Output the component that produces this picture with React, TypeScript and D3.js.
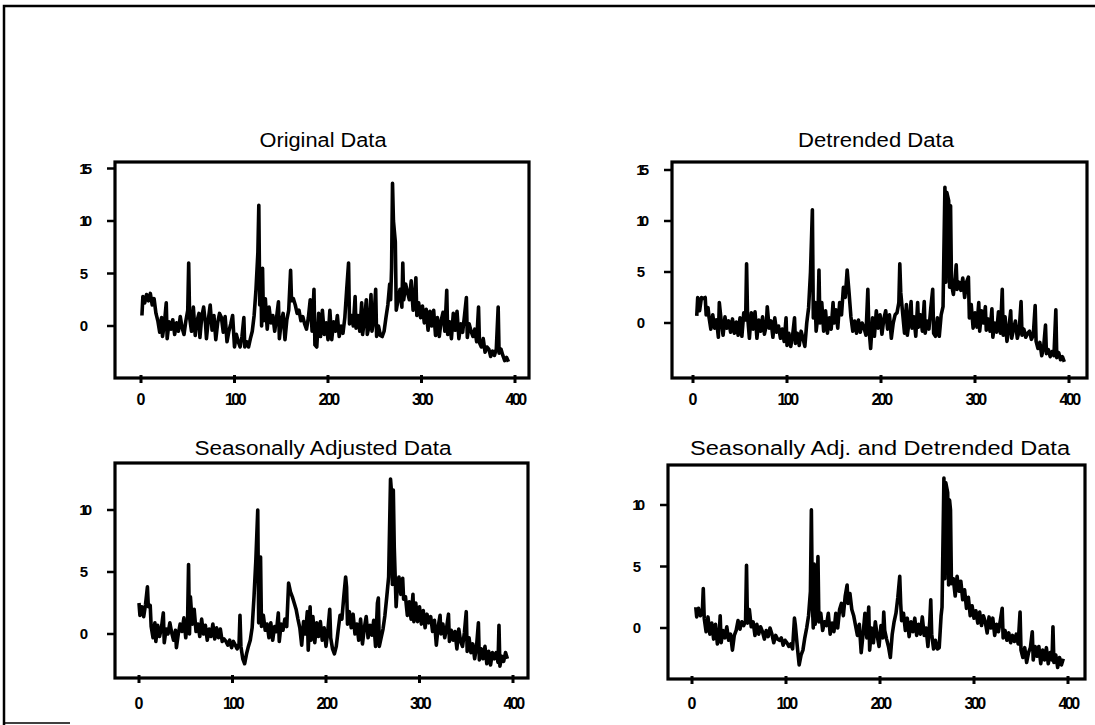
import React from "react";
import * as d3 from "d3";

const TITLES = [
  "Original Data",
  "Detrended Data",
  "Seasonally Adjusted Data",
  "Seasonally Adj. and Detrended Data",
];
const X_TICKS = [0, 100, 200, 300, 400];
const Y_TICKS_TOP = [0, 5, 10, 15];
const Y_TICKS_BOTTOM = [0, 5, 10];

const ORIGINAL: [number, number][] = [
  [1,1.0],[2,2.8],[4,2.2],[6,3.0],[8,2.4],[10,3.1],[12,2.0],[14,2.6],[16,1.2],[18,0.5],[20,-0.6],[22,0.8],[23,-1.0],[25,0.2],[27,2.2],[28,-1.2],[30,0.4],[32,-0.3],[34,0.6],[36,-0.8],[38,0.3],[40,-0.5],[42,0.9],[44,-0.2],[46,-0.8],[48,0.5],[50,1.5],[51,6.0],[52,0.8],[54,-0.5],[56,1.8],[58,-0.9],[60,0.5],[62,1.2],[63,-1.1],[65,0.9],[67,1.8],[69,0.2],[70,-1.2],[72,0.6],[74,2.0],[76,-0.4],[78,1.0],[80,-1.3],[82,0.3],[84,1.2],[86,0.8],[88,-0.6],[90,0.9],[92,-1.5],[94,-0.5],[96,0.2],[98,1.0],[100,-2.0],[102,-0.8],[104,-1.5],[106,-2.0],[108,-1.0],[110,0.8],[111,-2.0],[113,-1.5],[115,-2.0],[117,-1.2],[119,-0.5],[121,1.0],[123,3.5],[125,7.0],[126,11.5],[127,2.0],[128,5.4],[129,0.0],[130,5.5],[131,0.5],[133,2.6],[135,-0.3],[137,1.8],[139,0.3],[141,1.0],[143,-0.5],[145,0.8],[147,2.3],[148,-1.2],[150,0.4],[152,1.2],[154,-1.3],[156,0.6],[158,1.5],[160,5.3],[161,2.4],[163,2.6],[165,2.0],[167,1.2],[169,1.5],[171,0.5],[173,0.9],[175,0.2],[177,-0.3],[179,0.8],[181,2.5],[183,-0.5],[185,3.5],[186,-1.8],[188,-2.0],[190,1.2],[192,-1.0],[194,1.5],[196,-0.8],[198,0.3],[200,-1.3],[202,1.5],[204,-1.3],[206,0.4],[208,-0.5],[210,1.0],[212,-1.0],[214,0.0],[216,-0.7],[218,0.8],[220,3.5],[222,6.0],[223,0.2],[225,1.0],[227,0.0],[229,2.8],[230,-0.2],[232,1.0],[234,-0.5],[236,2.2],[237,-0.8],[239,0.6],[241,2.5],[242,-0.8],[244,0.0],[246,3.0],[247,-0.5],[249,0.6],[251,3.5],[252,-1.0],[254,0.0],[256,-0.9],[258,-1.0],[260,-0.5],[262,0.8],[264,2.0],[266,4.0],[267,2.5],[268,5.5],[269,13.6],[270,10.0],[272,8.0],[273,1.5],[275,2.5],[277,3.5],[279,1.8],[280,6.0],[281,2.5],[283,4.0],[285,3.2],[287,2.5],[289,4.3],[291,1.5],[293,3.0],[294,4.6],[295,1.0],[297,2.2],[299,0.8],[301,1.9],[303,0.3],[305,1.6],[307,-0.4],[309,1.4],[311,0.0],[313,1.5],[315,-0.9],[317,0.8],[319,-1.0],[321,0.5],[323,1.3],[325,-0.5],[327,3.4],[328,-0.8],[330,0.4],[332,-1.2],[334,1.2],[336,-0.4],[338,1.4],[340,-1.2],[342,0.2],[344,-0.6],[346,1.0],[348,2.7],[349,-1.1],[351,0.2],[353,-0.5],[355,-1.0],[357,-0.3],[359,-1.5],[361,1.8],[362,-1.6],[364,-2.0],[366,-1.2],[368,-2.5],[370,-2.0],[372,-2.2],[374,-2.9],[376,-2.4],[378,-2.8],[380,-2.2],[382,1.8],[383,-2.6],[385,-2.2],[387,-2.8],[389,-3.3],[391,-3.0],[393,-3.4],
];

const DETRENDED: [number, number][] = [
  [4,0.7],[5,2.5],[7,1.2],[9,2.5],[11,2.4],[13,2.5],[14,0.8],[16,1.5],[17,0.6],[19,-0.6],[21,0.8],[23,-0.5],[25,0.3],[27,-1.4],[28,2.0],[30,0.2],[32,-1.2],[34,0.6],[36,-0.5],[38,0.2],[40,-0.9],[42,0.4],[44,-1.0],[46,0.1],[48,-1.2],[50,0.5],[52,-1.3],[54,1.0],[56,0.3],[57,5.8],[58,0.8],[60,-1.5],[62,1.0],[64,-0.6],[66,1.1],[68,-1.5],[70,0.3],[72,-0.8],[74,0.6],[76,-1.1],[78,-0.2],[79,1.6],[81,-0.5],[83,0.2],[85,-1.4],[87,0.5],[89,-0.9],[91,-0.3],[93,-1.5],[95,-0.6],[97,-1.8],[99,0.5],[100,-2.2],[102,-1.0],[104,-2.3],[106,-1.2],[108,0.5],[109,-2.0],[111,-1.0],[113,-2.2],[115,-0.8],[117,-1.5],[119,-2.3],[121,0.0],[123,1.5],[125,5.0],[127,11.1],[128,0.5],[130,2.0],[131,-0.8],[133,0.8],[134,5.2],[135,0.0],[137,2.0],[139,-0.8],[141,1.2],[143,-1.0],[145,0.5],[147,-0.6],[149,2.0],[150,0.0],[152,1.3],[154,-0.5],[156,2.0],[158,0.8],[160,3.5],[162,2.5],[164,5.2],[166,3.0],[168,0.6],[170,-0.8],[172,0.2],[174,-1.0],[176,0.3],[178,-0.9],[180,0.0],[182,-0.5],[184,-1.2],[186,3.3],[187,-0.3],[189,-2.5],[191,0.5],[193,-1.3],[195,1.2],[197,-0.5],[199,0.8],[201,-1.1],[203,0.4],[205,1.2],[207,-0.6],[209,0.8],[211,-1.5],[213,0.0],[215,0.8],[217,1.0],[219,2.0],[220,5.8],[221,3.0],[223,1.0],[225,-1.0],[227,1.8],[228,-1.2],[230,0.2],[232,2.1],[233,-0.5],[235,0.6],[237,-1.3],[239,2.0],[240,-0.4],[242,0.8],[244,-0.8],[246,2.1],[247,-1.0],[249,0.2],[251,-0.6],[253,1.5],[255,3.3],[256,-1.0],[258,-1.3],[260,0.5],[262,-1.3],[264,0.8],[266,1.6],[268,13.3],[269,4.0],[270,12.8],[272,12.0],[273,3.5],[274,11.5],[275,3.8],[277,2.8],[279,4.5],[280,5.7],[281,3.3],[283,4.0],[285,3.2],[287,4.4],[289,2.5],[291,4.0],[293,4.5],[294,0.5],[296,1.8],[298,-0.5],[300,1.0],[302,-0.4],[304,2.0],[305,-0.8],[307,1.2],[309,0.0],[311,1.6],[312,-0.7],[314,0.4],[316,-0.8],[318,1.4],[319,-1.4],[321,0.0],[323,-0.9],[325,1.1],[327,-1.0],[329,3.3],[330,-1.2],[332,0.6],[334,-1.8],[336,-0.5],[338,1.2],[339,-1.5],[341,-0.6],[343,0.2],[345,-1.5],[347,-0.8],[349,2.1],[350,-1.2],[352,-0.6],[354,-1.4],[356,-1.0],[358,-0.8],[360,-1.6],[362,-1.2],[364,1.7],[365,-1.8],[367,-2.5],[369,-1.9],[371,-3.2],[373,-2.4],[375,-0.2],[376,-3.0],[378,-2.6],[380,-3.3],[382,-2.8],[384,-3.2],[386,1.3],[387,-3.4],[389,-2.9],[391,-3.6],[393,-3.3],[395,-3.8],
];

const SEASONAL: [number, number][] = [
  [0,2.5],[1,1.5],[3,2.2],[5,1.4],[7,2.4],[9,3.8],[10,2.2],[12,2.3],[13,0.6],[15,-0.3],[17,0.9],[18,-0.6],[20,0.7],[22,-0.2],[24,0.5],[26,1.7],[27,-0.7],[29,0.4],[31,0.0],[33,0.9],[35,0.1],[37,-0.5],[39,0.3],[40,-1.1],[42,0.0],[44,0.8],[46,0.2],[48,1.3],[50,-0.3],[52,1.2],[53,5.6],[54,0.0],[55,3.0],[57,0.8],[59,2.0],[61,0.2],[63,0.8],[65,-0.2],[67,1.2],[69,0.0],[71,0.7],[73,-0.5],[75,0.4],[77,-0.2],[79,0.8],[81,-0.4],[83,0.5],[85,-0.3],[87,0.4],[89,-0.6],[91,-0.4],[93,-0.6],[95,-0.9],[97,-0.5],[99,-1.1],[101,-0.6],[103,-0.9],[105,-1.2],[107,-0.8],[108,1.5],[109,-1.0],[111,-2.0],[113,-2.4],[115,-1.6],[117,-1.0],[119,-0.5],[121,0.5],[123,3.0],[125,6.0],[127,10.0],[128,0.9],[129,5.5],[130,6.2],[131,0.6],[133,1.5],[135,0.3],[137,0.8],[139,-0.3],[141,0.9],[143,-0.5],[145,0.6],[147,0.2],[149,1.7],[150,-0.6],[152,0.8],[154,0.3],[156,1.2],[158,0.6],[160,4.1],[162,3.4],[164,3.0],[166,2.5],[168,2.0],[170,1.2],[172,0.5],[174,-0.9],[176,1.0],[178,0.0],[180,1.8],[181,-1.3],[183,2.2],[184,-0.5],[186,1.4],[188,-0.7],[190,0.9],[192,-0.2],[194,1.0],[196,-0.5],[198,0.5],[200,-1.0],[202,0.3],[204,2.0],[205,-0.3],[207,-1.2],[209,-1.6],[211,-1.0],[213,0.3],[215,1.5],[217,1.2],[219,3.0],[221,4.6],[222,3.8],[223,0.8],[225,1.8],[227,0.5],[229,1.6],[231,0.0],[233,0.8],[235,-0.5],[237,1.2],[239,-0.8],[241,0.5],[243,1.4],[245,-0.3],[247,0.7],[249,-0.1],[251,1.1],[253,-1.0],[255,2.5],[256,2.9],[257,-1.0],[259,-0.3],[261,0.4],[263,1.5],[265,3.0],[267,4.6],[269,12.5],[270,11.5],[271,4.0],[272,11.6],[273,7.0],[275,2.2],[276,3.5],[278,4.6],[280,3.2],[282,4.5],[283,2.8],[285,3.0],[287,1.5],[289,2.6],[291,1.2],[293,3.2],[294,1.0],[296,2.5],[298,1.0],[300,2.2],[302,0.8],[304,1.9],[306,0.5],[308,1.6],[310,0.9],[312,1.4],[314,0.2],[316,1.1],[318,-0.9],[320,0.6],[322,1.5],[323,0.0],[325,0.8],[327,-0.3],[329,0.5],[331,1.6],[332,-0.6],[334,0.3],[336,-0.5],[338,0.2],[340,-1.2],[342,0.4],[344,-0.6],[346,-1.0],[348,0.1],[350,1.8],[351,-1.4],[353,-0.3],[355,-1.5],[357,-0.8],[359,-2.0],[361,-1.0],[363,0.9],[364,-2.1],[366,-1.2],[368,-2.0],[370,-1.0],[372,-2.4],[374,-1.4],[376,-2.5],[378,-1.5],[380,-2.0],[382,-1.5],[384,-2.3],[385,0.7],[386,-2.6],[388,-1.8],[390,-2.2],[392,-1.5],[394,-2.0],
];

const SEAS_DETRENDED: [number, number][] = [
  [4,1.7],[5,0.9],[7,1.6],[9,1.0],[11,1.3],[12,3.2],[13,0.8],[15,-0.3],[17,0.9],[19,-0.5],[21,0.4],[23,-0.9],[25,0.3],[27,-1.3],[29,-0.4],[30,1.0],[31,-1.2],[33,-0.2],[35,-0.8],[37,0.1],[39,-1.0],[41,-0.5],[43,-1.8],[45,-0.6],[47,-0.2],[49,0.6],[51,-0.1],[53,0.5],[55,0.2],[57,0.6],[58,5.1],[59,0.4],[61,1.5],[63,0.1],[65,0.5],[67,-0.6],[69,0.3],[71,-0.5],[73,0.1],[75,-0.3],[77,-0.9],[79,-0.2],[81,-0.7],[83,0.0],[85,-0.5],[87,-1.2],[89,-0.6],[91,-0.9],[93,-1.0],[95,-0.8],[97,-1.4],[99,-1.0],[101,-1.2],[103,-1.5],[105,-1.3],[107,-1.7],[109,0.8],[110,0.2],[112,-1.5],[114,-3.0],[116,-2.2],[118,-1.8],[120,-0.8],[122,0.0],[124,1.0],[126,3.0],[127,9.6],[128,2.0],[129,0.0],[130,5.2],[131,0.3],[133,2.0],[134,5.8],[135,0.5],[137,1.2],[139,-0.2],[141,0.5],[143,0.2],[145,1.2],[147,-0.5],[149,0.4],[151,-0.3],[153,1.2],[155,0.0],[157,1.5],[159,2.0],[161,1.0],[163,2.6],[165,3.5],[166,2.0],[168,2.8],[170,1.5],[172,1.0],[174,0.2],[176,-0.6],[178,0.3],[180,-2.0],[182,-0.5],[184,1.2],[186,-0.8],[188,1.7],[189,-1.8],[191,0.0],[193,-1.2],[195,0.5],[197,-0.6],[199,-1.5],[201,0.2],[203,-0.8],[204,1.3],[205,-0.2],[207,-0.9],[209,-1.5],[211,-2.4],[213,-0.5],[215,0.5],[217,1.2],[219,2.5],[221,4.2],[222,2.0],[223,0.6],[225,1.2],[227,-0.2],[229,0.8],[231,-0.7],[233,0.5],[235,-0.3],[237,0.8],[239,-0.6],[241,0.3],[243,-0.5],[245,0.9],[247,-0.6],[249,0.0],[251,-1.5],[253,0.6],[254,2.3],[255,-0.5],[257,-1.7],[259,-1.0],[261,-1.7],[263,-1.6],[265,1.0],[266,1.7],[268,12.2],[269,4.0],[270,11.8],[272,11.0],[273,3.5],[274,10.4],[275,9.6],[276,3.6],[278,4.0],[280,2.6],[282,4.2],[284,3.0],[286,3.8],[288,2.3],[290,3.1],[292,1.6],[294,2.5],[296,1.0],[298,1.8],[300,0.8],[302,1.4],[304,0.4],[306,1.3],[308,0.2],[310,1.0],[312,0.5],[314,-0.4],[316,0.9],[318,0.0],[320,0.8],[322,-0.6],[324,0.3],[326,-0.3],[328,0.6],[330,1.6],[331,-0.8],[333,-0.2],[335,-1.0],[337,-0.4],[339,-1.2],[341,-0.6],[343,-1.1],[345,-0.5],[347,-1.3],[349,1.3],[350,-1.8],[352,-2.4],[354,-1.6],[356,-2.8],[358,-2.0],[360,-1.6],[362,-0.3],[363,-2.6],[365,-1.5],[367,-2.3],[369,-1.5],[371,-2.9],[373,-1.8],[375,-2.6],[377,-1.6],[379,-2.9],[381,-2.0],[383,-2.6],[384,0.1],[385,-2.8],[387,-2.2],[389,-3.2],[391,-2.4],[393,-3.0],[395,-2.5],
];

const SERIES = [ORIGINAL, DETRENDED, SEASONAL, SEAS_DETRENDED];
const Y_TICK_SETS = [Y_TICKS_TOP, Y_TICKS_TOP, Y_TICKS_BOTTOM, Y_TICKS_BOTTOM];

// layout (pixel geometry of each panel)
const LAYOUT = [
  { left: 115, right: 529, top: 162, bottom: 378, x0: 141, x400: 515, y0: 326, y10: 221, tx: 323, ty: 147, tw: 127, lx: 405 },
  { left: 672, right: 1087, top: 162, bottom: 378, x0: 693, x400: 1069, y0: 323, y10: 221, tx: 876, ty: 147, tw: 156, lx: 405 },
  { left: 115, right: 528, top: 463, bottom: 678, x0: 139, x400: 513, y0: 634, y10: 510, tx: 323, ty: 455, tw: 257, lx: 709 },
  { left: 668, right: 1085, top: 465, bottom: 679, x0: 692, x400: 1068, y0: 628, y10: 505, tx: 880, ty: 455, tw: 380, lx: 709 },
];

const FONT = "'Liberation Sans', Arial, Helvetica, sans-serif";

function Panel({ idx }: { idx: number }) {
  const L = LAYOUT[idx];
  const data = SERIES[idx];
  const x = d3.scaleLinear().domain([0, 400]).range([L.x0, L.x400]);
  const y = d3.scaleLinear().domain([0, 10]).range([L.y0, L.y10]);
  const line = d3
    .line<[number, number]>()
    .x((d) => x(d[0]))
    .y((d) => y(d[1]));
  return (
    <g>
      <text
        x={L.tx}
        y={L.ty}
        textAnchor="middle"
        fontFamily={FONT}
        fontSize={20}
        textLength={L.tw}
        lengthAdjust="spacingAndGlyphs"
        fill="#000"
      >
        {TITLES[idx]}
      </text>
      <path d={line(data) || ""} fill="none" stroke="#000" strokeWidth={3.6} strokeLinejoin="round" />
      <rect
        x={L.left}
        y={L.top}
        width={L.right - L.left}
        height={L.bottom - L.top}
        fill="none"
        stroke="#000"
        strokeWidth={3.2}
      />
      {X_TICKS.map((t) => (
        <g key={"x" + t}>
          <line x1={x(t)} x2={x(t)} y1={L.bottom - 3} y2={L.bottom + 5} stroke="#000" strokeWidth={3} />
          <text
            x={x(t)}
            y={L.lx}
            textAnchor="middle"
            fontFamily={FONT}
            fontSize={16}
            fontWeight="bold"
            letterSpacing={t === 0 ? 0 : -2.5}
            fill="#000"
          >
            {t}
          </text>
        </g>
      ))}
      {Y_TICK_SETS[idx].map((v) => (
        <g key={"y" + v}>
          <line x1={L.left - 8} x2={L.left} y1={y(v)} y2={y(v)} stroke="#000" strokeWidth={2.5} />
          <text
            x={L.left - 27}
            y={y(v)}
            dy="0.35em"
            textAnchor="end"
            fontFamily={FONT}
            fontSize={15}
            fontWeight="bold"
            letterSpacing={v >= 10 ? -4 : 0}
            fill="#000"
          >
            {v}
          </text>
        </g>
      ))}
    </g>
  );
}

export default function App() {
  return (
    <svg
      width={1095}
      height={725}
      viewBox="0 0 1095 725"
      style={{ position: "absolute", left: 0, top: 0, background: "#fff", display: "block" }}
    >
      <rect x={0} y={0} width={1095} height={725} fill="#fff" />
      <path d="M4,725 L4,6 L1095,6" fill="none" stroke="#000" strokeWidth={2.5} />
      <line x1={4} x2={70} y1={723} y2={723} stroke="#000" strokeWidth={1.5} />
      {[0, 1, 2, 3].map((i) => (
        <Panel key={i} idx={i} />
      ))}
    </svg>
  );
}
